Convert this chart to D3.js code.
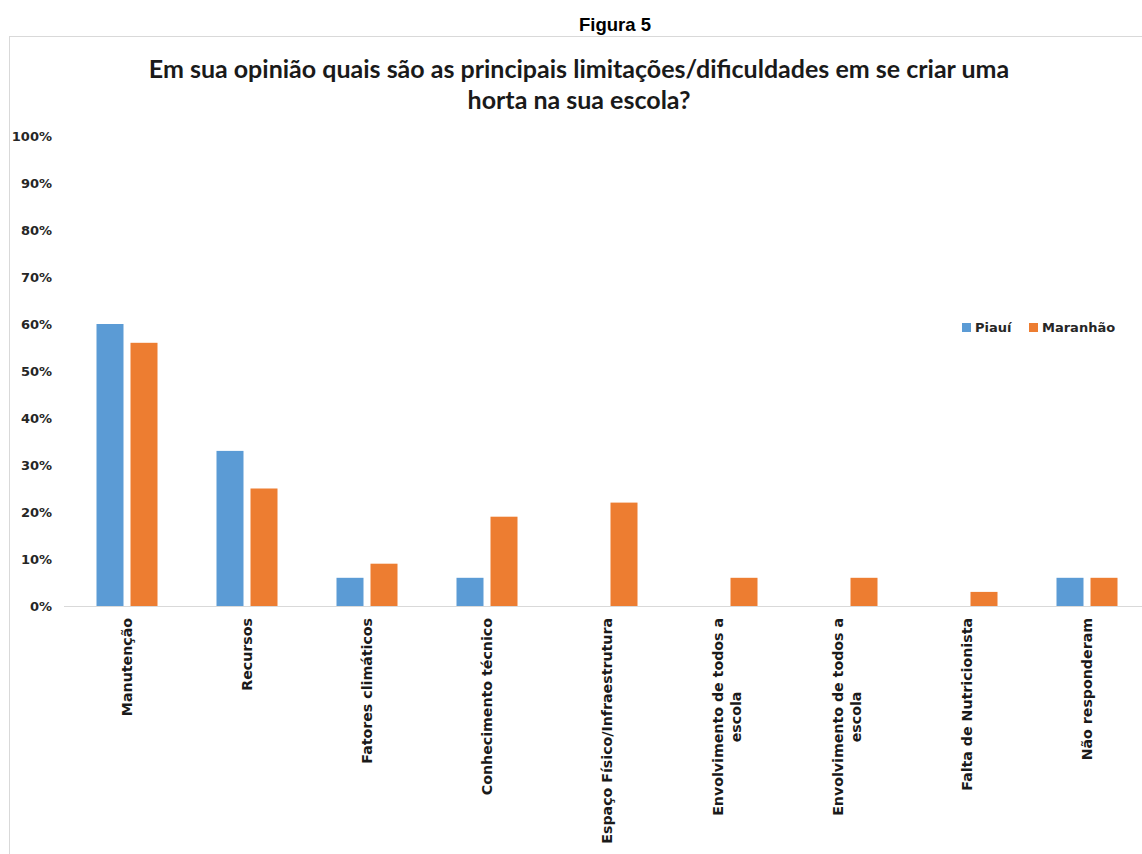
<!DOCTYPE html>
<html>
<head>
<meta charset="utf-8">
<script src="https://cdnjs.cloudflare.com/ajax/libs/d3/7.8.5/d3.min.js"></script>
<style>
    body { margin: 0; background: #fff; }
    .container { width: 1142px; height: 854px; }
</style>
</head>
<body>
<div class="container"></div>
<script>
let categories = [
    ["Manutenção"],
    ["Recursos"],
    ["Fatores climáticos"],
    ["Conhecimento técnico"],
    ["Espaço Físico/Infraestrutura"],
    ["Envolvimento de todos a", "escola"],
    ["Envolvimento de todos a", "escola"],
    ["Falta de Nutricionista"],
    ["Não responderam"]
];
let seriesNames = ["Piauí", "Maranhão"];
let piaui = [0.60, 0.33, 0.06, 0.06, 0, 0, 0, 0, 0.06];
let maranhao = [0.56, 0.25, 0.09, 0.19, 0.22, 0.06, 0.06, 0.03, 0.06];
let yTicks = [0, 0.1, 0.2, 0.3, 0.4, 0.5, 0.6, 0.7, 0.8, 0.9, 1];
let colors = ["#5b9bd5", "#ed7d31"];

let width = 1142;
let height = 854;
let plot = { left: 67, right: 1147, top: 136, bottom: 606 };

let svg = d3.select(".container")
    .append("svg")
    .attr("width", width)
    .attr("height", height);

svg.append("rect")
    .attr("width", width)
    .attr("height", height)
    .attr("fill", "#fff");

// figure caption above the chart frame
svg.append("text")
    .attr("x", 615)
    .attr("y", 31)
    .attr("text-anchor", "middle")
    .style("font-family", "Liberation Sans, Arial, sans-serif")
    .style("font-weight", "bold")
    .style("font-size", "18.5px")
    .text("Figura 5");

// chart frame
svg.append("rect")
    .attr("x", 9.5)
    .attr("y", 36.5)
    .attr("width", 1200)
    .attr("height", 900)
    .attr("fill", "none")
    .attr("stroke", "#d9d9d9");

let titleLines = [
    "Em sua opinião quais são as principais limitações/dificuldades em se criar uma",
    "horta na sua escola?"
];
svg.append("text")
    .attr("text-anchor", "middle")
    .style("font-family", "Lato, sans-serif")
    .style("font-weight", "bold")
    .style("font-size", "25px")
    .attr("fill", "#1a1a1a")
    .selectAll("tspan")
    .data(titleLines)
    .enter()
    .append("tspan")
    .attr("x", 579)
    .attr("y", function (d, i) {
        return 78 + i * 31;
    })
    .text(function (d) {
        return d;
    });

let data = categories.map(function (c, i) {
    return { idx: i, values: [piaui[i], maranhao[i]] };
});

let x0 = d3.scaleBand()
    .domain(d3.range(categories.length))
    .range([plot.left, plot.right])
    .padding(0);

let x1 = d3.scaleBand()
    .domain([0, 1])
    .range([29.5, 90.5])
    .paddingInner(0.206);

let y = d3.scaleLinear()
    .domain([0, 1])
    .range([plot.bottom, plot.top]);

// y axis labels only
let yAxis = svg.append("g")
    .attr("transform", "translate(55,0)")
    .call(d3.axisLeft(y)
        .tickValues(yTicks)
        .tickFormat(d3.format(".0%"))
        .tickSize(0)
        .tickPadding(3));
yAxis.select(".domain").remove();
yAxis.selectAll("text")
    .style("font-family", "DejaVu Sans, sans-serif")
    .style("font-weight", "bold")
    .style("font-size", "13px")
    .attr("fill", "#262626");

// bars
svg.append("g")
    .selectAll("g")
    .data(data)
    .enter()
    .append("g")
    .attr("transform", function (d) {
        return "translate(" + x0(d.idx) + ",0)";
    })
    .selectAll("rect")
    .data(function (d) {
        return d.values.map(function (v, s) {
            return { s: s, v: v };
        });
    })
    .enter()
    .filter(function (d) {
        return d.v > 0;
    })
    .append("rect")
    .attr("x", function (d) {
        return x1(d.s);
    })
    .attr("y", function (d) {
        return y(d.v);
    })
    .attr("width", x1.bandwidth())
    .attr("height", function (d) {
        return y(0) - y(d.v);
    })
    .attr("fill", function (d) {
        return colors[d.s];
    });

// x axis with rotated, wrapped labels
let xAxis = svg.append("g")
    .attr("transform", "translate(0," + plot.bottom + ")")
    .call(d3.axisBottom(x0).tickSize(0).tickSizeOuter(0).tickFormat(""));
xAxis.select(".domain")
    .attr("stroke", "#d9d9d9")
    .attr("d", "M64,0.5H1142");
xAxis.selectAll(".tick text").remove();

xAxis.selectAll(".tick").each(function (i) {
    let lines = categories[i];
    let tick = d3.select(this);
    let first = null;
    lines.forEach(function (line, k) {
        let off = (k - (lines.length - 1) / 2) * 18 + 5;
        let t = tick.append("text")
            .attr("transform", "rotate(-90)")
            .attr("y", off)
            .attr("fill", "#1a1a1a")
            .style("font-family", "DejaVu Sans, sans-serif")
            .style("font-weight", "bold")
            .style("font-size", "14.2px")
            .text(line);
        if (k == 0) {
            t.attr("x", -12).attr("text-anchor", "end");
            first = t.node().getComputedTextLength();
        } else {
            t.attr("x", -12 - first / 2).attr("text-anchor", "middle");
        }
    });
});

// legend
let legend = svg.append("g")
    .selectAll("g")
    .data(seriesNames)
    .enter()
    .append("g")
    .attr("transform", function (d, i) {
        return "translate(" + [962, 1029][i] + ",323)";
    });
legend.append("rect")
    .attr("width", 9)
    .attr("height", 9)
    .attr("fill", function (d, i) {
        return colors[i];
    });
legend.append("text")
    .attr("x", 13)
    .attr("y", 9)
    .attr("fill", "#262626")
    .style("font-family", "DejaVu Sans, sans-serif")
    .style("font-weight", "bold")
    .style("font-size", "13px")
    .text(function (d) {
        return d;
    });
</script>
</body>
</html>
